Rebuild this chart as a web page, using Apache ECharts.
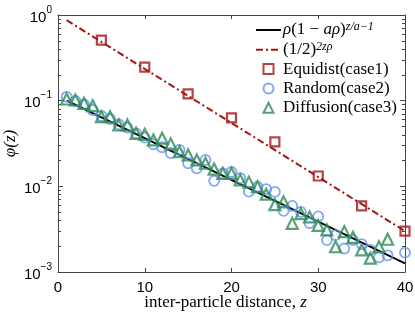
<!DOCTYPE html>
<html>
<head>
<meta charset="utf-8">
<script src="https://cdn.jsdelivr.net/npm/echarts@6/dist/echarts.min.js"></script>
<style>html,body{margin:0;padding:0;background:#fff}#c{width:415px;height:313px}</style>
</head>
<body>
<div id="c"></div>
<script>
// ---- data ----
const seriesNames = ['rho', 'half', 'Equidist(case1)', 'Random(case2)', 'Diffusion(case3)'];
const xTicks = [0, 10, 20, 30, 40];
const yTicks = [0.001, 0.01, 0.1, 1];
const yMinorTicks = [0.002,0.003,0.004,0.005,0.006,0.007,0.008,0.009,
                     0.02,0.03,0.04,0.05,0.06,0.07,0.08,0.09,
                     0.2,0.3,0.4,0.5,0.6,0.7,0.8,0.9];
// theory line rho(1-a rho)^(z/a-1): endpoints
const theoryZ = [1, 40];
const theoryV = [0.1, 0.00126];
// (1/2)^(2 z rho): endpoints
const halfZ = [1, 40];
const halfV = [0.87, 0.003];
// Equidist(case1)
const equiZ = [5, 10, 15, 20, 25, 30, 35, 40];
const equiV = [0.51, 0.247, 0.12, 0.063, 0.033, 0.0132, 0.0059, 0.003];
// Random(case2)
const randZ = [1,2,3,4,5,6,7,8,9,10,11,12,13,14,15,16,17,18,19,20,21,22,23,24,25,26,27,28,29,30,31,32,33,34,35,36,37,38,40];
const randV = [0.111,0.0991,0.0907,0.0778,0.0662,0.0611,0.053,0.0484,0.0416,0.037,0.031,0.0286,0.0245,0.0266,0.0186,0.0162,0.0203,0.0116,0.0142,0.0147,0.0125,0.00866,0.0099,0.0093,0.0086,0.00516,0.0059,0.00502,0.00373,0.00445,0.00236,0.0027,0.00188,0.00236,0.00212,0.00181,0.00148,0.00156,0.00168];
// Diffusion(case3)
const diffZ = [1,2,3,4,5,6,7,8,9,10,11,12,13,14,15,16,17,18,19,20,21,22,23,24,25,26,27,28,29,30,31,32,33,34,35,36,37,38];
const diffV = [0.1046,0.1018,0.0932,0.0874,0.065,0.065,0.052,0.052,0.0416,0.0405,0.0348,0.0364,0.0312,0.0254,0.0232,0.0203,0.0186,0.0159,0.0142,0.0142,0.0119,0.0112,0.0099,0.0081,0.0061,0.0066,0.0037,0.0048,0.0044,0.0035,0.0031,0.00197,0.00296,0.00254,0.00181,0.00145,0.00197,0.00241];

const pairs = (xs, ys) => xs.map((x, i) => [x, ys[i]]);

const RED = '#a11515', BLUE = '#6495ed', GREEN = '#2e8b57';
const SERIF = 'Liberation Serif';
const SANS = 'Liberation Sans';
const AX = '#444';
const CLEAR = 'rgba(0,0,0,0)';
const SQUARE_ICON = 'path://M0,0H10V10H0Z';
const TRI_ICON = 'path://M5,0L10,10L0,10Z';

const chart = echarts.init(document.getElementById('c'), null, {renderer: 'canvas'});

const yLabelFmt = v => {
  const e = Math.round(Math.log10(v));
  return '{b|10}{e|' + (e < 0 ? '\u2212' + (-e) : e) + '}';
};

const logAxisBase = {
  type: 'log', logBase: 10, min: 0.001, max: 1,
  splitLine: {show: false}
};

chart.setOption({
  animation: false,
  backgroundColor: '#fff',
  grid: {left: 58, right: 10, top: 15, bottom: 41, containLabel: false, outerBoundsMode: 'none'},
  legend: {
    orient: 'vertical', left: 250, top: 16,
    itemWidth: 25, itemHeight: 10, itemGap: 2.3,
    symbolKeepAspect: true,
    data: [
      {name: seriesNames[0]},
      {name: seriesNames[1]},
      {name: seriesNames[2], icon: SQUARE_ICON},
      {name: seriesNames[3], icon: 'circle'},
      {name: seriesNames[4], icon: TRI_ICON}
    ],
    formatter: name => {
      if (name === 'rho') return '{i|\u03c1}{r|(1 \u2212 }{i|a\u03c1}{r|)}{s|z/a\u22121}';
      if (name === 'half') return '{r|(1/2)}{s|2z\u03c1}';
      return '{r|' + name + '}';
    },
    textStyle: {
      color: '#000', fontFamily: SERIF, fontSize: 17, padding: [0, 0, 0, -3],
      rich: {
        r: {fontFamily: SERIF, fontSize: 17, lineHeight: 18, color: '#000'},
        i: {fontFamily: SERIF, fontSize: 17, lineHeight: 18, fontStyle: 'italic', color: '#000'},
        s: {fontFamily: SERIF, fontSize: 12, lineHeight: 6, fontStyle: 'italic', verticalAlign: 'top', color: '#000'}
      }
    }
  },
  xAxis: [{
    type: 'value', min: 0, max: 40, interval: 10, position: 'bottom',
    axisLine: {show: true, lineStyle: {color: AX, width: 1}},
    axisTick: {show: true, inside: true, length: 4, lineStyle: {color: AX}},
    axisLabel: {color: '#000', fontFamily: SANS, fontSize: 15, margin: 8,
                formatter: v => String(v)},
    splitLine: {show: false},
    name: '{r|inter-particle distance, }{i|z}',
    nameLocation: 'middle', nameGap: 22, nameMoveOverlap: false,
    nameTextStyle: {
      padding: [0, 12, 0, 0],
      rich: {
        r: {fontFamily: SERIF, fontSize: 17, lineHeight: 18, color: '#000'},
        i: {fontFamily: SERIF, fontSize: 17, lineHeight: 18, fontStyle: 'italic', color: '#000'}
      }
    }
  }, {
    type: 'value', min: 0, max: 40, interval: 10, position: 'top',
    axisLine: {show: true, lineStyle: {color: AX, width: 1}},
    axisTick: {show: true, inside: true, length: 4, lineStyle: {color: AX}},
    axisLabel: {show: false}, splitLine: {show: false}
  }],
  yAxis: [Object.assign({}, logAxisBase, {
    position: 'left',
    axisLine: {show: true, lineStyle: {color: AX, width: 1}},
    axisTick: {show: true, inside: true, length: 5, lineStyle: {color: AX}},
    axisLabel: {
      color: '#000', margin: 6, formatter: yLabelFmt,
      rich: {
        b: {fontFamily: SANS, fontSize: 15, lineHeight: 20, verticalAlign: 'bottom', color: '#000'},
        e: {fontFamily: SANS, fontSize: 10, lineHeight: 6, verticalAlign: 'top', color: '#000'}
      }
    },
    name: 'φ(z)', nameLocation: 'middle', nameRotate: 90, nameGap: 39, nameMoveOverlap: false,
    nameTextStyle: {fontFamily: SERIF, fontSize: 17, fontStyle: 'italic', color: '#000'}
  }), Object.assign({}, logAxisBase, {
    position: 'left',
    axisLine: {show: false},
    axisTick: {show: true, inside: true, length: 3, customValues: yMinorTicks, lineStyle: {color: AX}},
    axisLabel: {show: false}
  }), Object.assign({}, logAxisBase, {
    position: 'right',
    axisLine: {show: true, lineStyle: {color: AX, width: 1}},
    axisTick: {show: true, inside: true, length: 5, lineStyle: {color: AX}},
    axisLabel: {show: false}
  }), Object.assign({}, logAxisBase, {
    position: 'right',
    axisLine: {show: false},
    axisTick: {show: true, inside: true, length: 3, customValues: yMinorTicks, lineStyle: {color: AX}},
    axisLabel: {show: false}
  })],
  series: [{
    name: seriesNames[0], type: 'line', data: pairs(theoryZ, theoryV),
    symbol: 'none', lineStyle: {color: '#000', width: 2},
    itemStyle: {color: CLEAR, borderColor: CLEAR, borderWidth: 0}, z: 3
  }, {
    name: seriesNames[1], type: 'line', data: pairs(halfZ, halfV),
    symbol: 'none', lineStyle: {color: RED, width: 2, type: [7, 3, 2, 3]},
    itemStyle: {color: CLEAR, borderColor: CLEAR, borderWidth: 0}, z: 3
  }, {
    name: seriesNames[2], type: 'scatter', data: pairs(equiZ, equiV),
    symbol: 'rect', symbolSize: 9,
    itemStyle: {color: CLEAR, borderColor: RED, borderWidth: 2.2}, z: 4
  }, {
    name: seriesNames[3], type: 'scatter', data: pairs(randZ, randV),
    symbol: 'circle', symbolSize: 10,
    itemStyle: {color: CLEAR, borderColor: BLUE, borderWidth: 1.8}, z: 4
  }, {
    name: seriesNames[4], type: 'scatter', data: pairs(diffZ, diffV),
    symbol: 'triangle', symbolSize: 11,
    itemStyle: {color: CLEAR, borderColor: GREEN, borderWidth: 2.2}, z: 5
  }]
});
</script>
</body>
</html>
